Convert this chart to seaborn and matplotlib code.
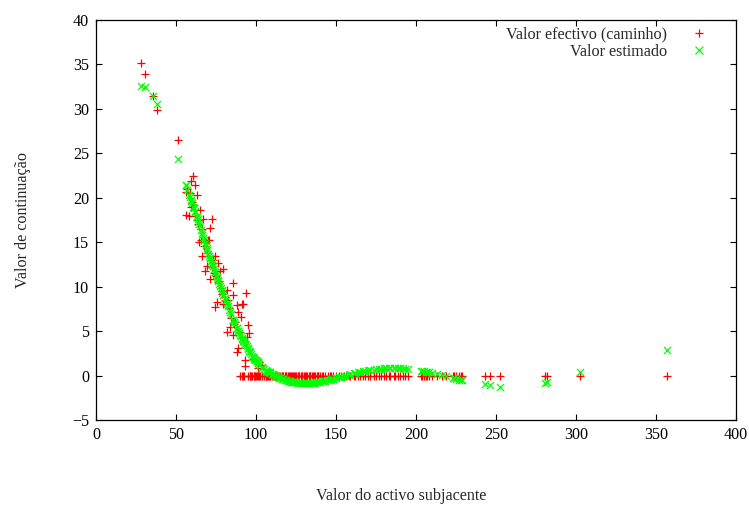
import matplotlib
matplotlib.use("Agg")
import matplotlib.pyplot as plt
import seaborn as sns
import pandas as pd
from matplotlib.lines import Line2D

# ---- data ----
x_iso = [28.1, 30.8, 35.8, 38.3, 51.0]
red_iso = [35.2, 33.9, 31.5, 29.9, 26.5]
green_iso = [32.6, 32.5, 31.5, 30.6, 24.4]

x_dense = [56.0, 56.0, 57.0, 58.0, 59.2, 60.0, 60.8, 61.9, 62.9, 63.5,
           64.6, 65.0, 66.0, 66.5, 67.1, 68.1, 69.2, 70.2, 70.6, 71.3,
           71.3, 72.3, 73.0, 74.4, 74.4, 75.4, 76.5, 77.5, 78.5, 79.6,
           79.6, 80.5, 81.7, 82.1, 82.7, 84.0, 85.8, 85.8, 85.8, 87.0,
           87.9, 87.9, 88.9, 88.9, 90.0, 90.4, 91.0, 91.7, 92.0, 93.1,
           93.1, 93.8, 94.2, 95.2, 95.8, 96.5, 98.3, 99.0, 100.5, 101.5,
           103.5, 104.0]
red_dense = [20.6, 18.1, 21.0, 18.0, 21.9, 19.5, 22.4, 21.4, 20.3, 17.0,
             15.0, 18.6, 13.4, 16.5, 17.6, 11.8, 12.3, 15.3, 15.3, 16.6,
             10.9, 17.6, 13.0, 13.4, 7.7, 8.3, 12.7, 11.8, 9.5, 12.0,
             8.1, 8.5, 4.9, 9.6, 8.5, 5.5, 10.4, 9.1, 4.6, 6.0,
             7.9, 2.6, 7.2, 3.1, 0.0, 6.6, 8.1, 8.1, 0.0, 1.8,
             1.1, 9.3, 4.3, 5.7, 4.8, 0.0, 1.9, 0.0, 0.0, 0.8,
             1.2, 0.0]
green_dense = [21.4, 21.4, 20.9, 20.3, 19.8, 19.4, 19.0, 18.5, 17.9, 17.6,
               17.0, 16.8, 16.0, 15.8, 15.5, 14.9, 14.3, 13.7, 13.5, 13.2,
               13.2, 12.7, 12.3, 11.6, 11.6, 11.1, 10.6, 10.1, 9.6, 9.1,
               9.1, 8.7, 8.2, 8.0, 7.8, 7.1, 6.3, 6.3, 6.3, 5.8,
               5.4, 5.4, 5.0, 5.0, 4.6, 4.5, 4.2, 4.0, 3.9, 3.6,
               3.6, 3.4, 3.3, 3.0, 2.8, 2.6, 2.1, 1.9, 1.6, 1.4,
               1.0, 0.9]

x_near = [58.5, 59.5, 61.0, 62.0, 63.0, 64.0, 65.5, 67.5, 68.5, 69.5,
          71.8, 72.8, 73.5, 75.0, 76.0, 77.0, 78.0, 79.0, 81.0, 83.0,
          84.5, 86.5, 89.5]
red_near = [20.5, 19.0, 19.2, 18.0, 17.5, 17.5, 15.2, 14.6, 15.0, 13.8,
            13.0, 12.2, 11.5, 11.2, 10.5, 10.6, 9.9, 9.2, 8.4, 7.6,
            6.5, 5.8, 4.9]
green_near = [20.1, 19.6, 18.9, 18.4, 17.8, 17.3, 16.4, 15.2, 14.7, 14.1,
              12.9, 12.4, 12.0, 11.3, 10.8, 10.3, 9.8, 9.3, 8.5, 7.4,
              6.9, 6.0, 4.8]

x_tail = [91.3, 92.5, 94.8, 96.0, 97.0, 97.8, 98.8, 99.5, 100.0, 101.0,
          102.0, 102.8, 105.0, 106, 106.5, 107, 107.5, 108, 108.5, 109,
          110, 110.5, 111, 112, 112.5, 113, 114, 114.5, 115, 116,
          116.5, 117, 118, 118.5, 119, 120, 120.5, 121, 122, 122.5,
          123, 124, 124.5, 125, 126, 126.5, 127, 128, 128.5, 129,
          130, 130.5, 131, 132, 133, 133.5, 134, 135, 135.5, 136,
          137, 138, 138.5, 139, 140, 141, 142, 143, 145, 146,
          147, 148, 150, 152, 153, 155, 156, 158, 159, 161,
          162, 164, 165, 167, 168, 170, 171, 174, 175, 177,
          178, 180, 181, 183, 184, 186, 187, 189, 190, 192,
          193, 195, 203, 204, 205, 206, 207, 208, 210, 213,
          216, 219, 223, 224, 225, 227, 228, 229,
          243, 246.5, 252.5, 280.6, 282, 302.5, 357]
green_tail = [4.1, 3.8, 3.1, 2.7, 2.4, 2.2, 2.0, 1.8, 1.7, 1.5,
              1.3, 1.15, 0.75, 0.6, 0.55, 0.5, 0.45, 0.4, 0.35, 0.3,
              0.2, 0.15, 0.1, 0.0, -0.05, -0.1, -0.2, -0.25, -0.28, -0.35,
              -0.4, -0.42, -0.5, -0.52, -0.55, -0.6, -0.62, -0.65, -0.7, -0.71,
              -0.72, -0.75, -0.77, -0.78, -0.8, -0.81, -0.82, -0.85, -0.86, -0.86,
              -0.87, -0.87, -0.87, -0.87, -0.86, -0.86, -0.85, -0.83, -0.82, -0.8,
              -0.78, -0.75, -0.74, -0.72, -0.68, -0.64, -0.61, -0.58, -0.5, -0.45,
              -0.4, -0.35, -0.25, -0.17, -0.12, -0.04, 0.0, 0.1, 0.15, 0.24,
              0.28, 0.36, 0.4, 0.47, 0.5, 0.57, 0.6, 0.68, 0.7, 0.75,
              0.77, 0.8, 0.81, 0.83, 0.84, 0.85, 0.85, 0.83, 0.82, 0.8,
              0.78, 0.75, 0.52, 0.5, 0.46, 0.43, 0.4, 0.37, 0.3, 0.18,
              0.05, -0.05, -0.25, -0.3, -0.35, -0.45, -0.5, -0.55,
              -1.0, -1.05, -1.25, -0.85, -0.75, 0.4, 2.9]
red_tail = [0.0] * len(x_tail)

x_ticks = [0, 50, 100, 150, 200, 250, 300, 350, 400]
y_ticks = [-5, 0, 5, 10, 15, 20, 25, 30, 35, 40]

label_red = "Valor efectivo (caminho)"
label_green = "Valor estimado"

x_all = x_iso + x_dense + x_near + x_tail
red_all = red_iso + red_dense + red_near + red_tail
green_all = green_iso + green_dense + green_near + green_tail
assert len(x_all) == len(red_all) == len(green_all)
df = pd.DataFrame({"x": x_all, "red": red_all, "green": green_all})

# ---- style ----
sns.set_style("ticks")
plt.rcParams["font.family"] = ["Liberation Serif", "DejaVu Serif"]
FS = 11.6
plt.rcParams["font.size"] = FS

fig = plt.figure(figsize=(7.49, 5.32), dpi=100)
ax = fig.add_axes([96 / 749, 112 / 532, 640 / 749, 400 / 532])

RED = "#ff0000"
GREEN = "#00ff00"

sns.scatterplot(data=df, x="x", y="red", marker="+", color=RED, s=30,
                linewidth=0.9, ax=ax, legend=False, zorder=2)
sns.scatterplot(data=df, x="x", y="green", marker="x", color=GREEN, s=26,
                linewidth=0.9, ax=ax, legend=False, zorder=3)

ax.set_xlim(0, 400)
ax.set_ylim(-5, 40)
ax.set_xticks(x_ticks)
ax.set_yticks(y_ticks)
ax.set_yticklabels([str(v).replace("-", "\u2212") for v in y_ticks])
ax.tick_params(direction="in", top=True, right=True, length=4.5, width=0.8,
               labelsize=FS, pad=5, colors="black")
for sp in ax.spines.values():
    sp.set_visible(True)
    sp.set_linewidth(0.9)
    sp.set_color("black")

ax.set_xlabel("Valor do activo subjacente", fontsize=FS)
ax.set_ylabel("Valor de continuação", fontsize=FS)
ax.xaxis.set_label_coords(0.477, -0.17)
ax.yaxis.set_label_coords(-0.102, 0.5)

# legend: two single-entry legends so text is right-aligned against the marker
h_red = Line2D([], [], linestyle="none", marker="+", color=RED, markersize=5.5, markeredgewidth=0.9)
h_green = Line2D([], [], linestyle="none", marker="x", color=GREEN, markersize=5.1, markeredgewidth=0.9)
common = dict(loc="upper right", frameon=False, markerfirst=False, handlelength=1.0,
              handletextpad=1.5, borderpad=0, borderaxespad=0, fontsize=FS)
leg1 = ax.legend([h_red], [label_red], bbox_to_anchor=(0.955, 0.983), **common)
ax.add_artist(leg1)
ax.legend([h_green], [label_green], bbox_to_anchor=(0.955, 0.941), **common)

fig.savefig("out.png", dpi=100, facecolor="white")
